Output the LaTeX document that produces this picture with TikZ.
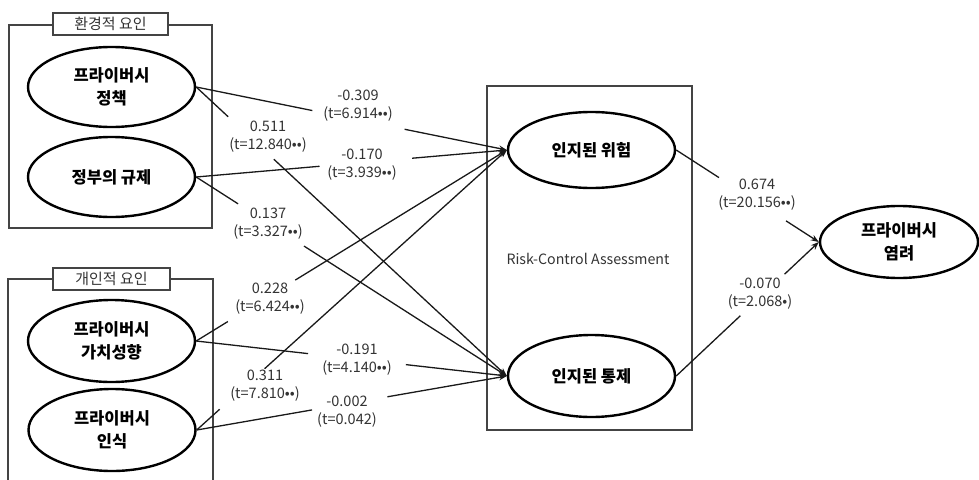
\documentclass[tikz,border=0pt]{standalone}
\usepackage{fontspec}
\setmainfont{Noto Sans CJK KR}
\usetikzlibrary{shapes.geometric,arrows.meta,calc}
\definecolor{txt}{HTML}{333333}
\definecolor{boxc}{HTML}{444444}
\newcommand\gapline[4]{%
  \draw[conn] (#1) -- ($(#1)!#3!(#2)$);
  \draw[conn,-{Stealth[length=8pt,width=6pt]}] ($(#1)!#4!(#2)$) -- (#2);}
\begin{document}
\begin{tikzpicture}[x=1pt,y=-1pt,
  ell/.style={ellipse,draw=black,line width=2.4pt,inner sep=0pt,align=center,
    font=\fontsize{16.5}{23}\selectfont\bfseries,text=black},
  conn/.style={line width=1.3pt,draw=black!90},
  frame/.style={line width=1.2pt,draw=boxc},
  tag/.style={draw=boxc,line width=1.2pt,fill=white,inner sep=0pt,
    font=\fontsize{15}{17}\selectfont,text=txt},
  coef/.style={align=center,inner sep=0pt,font=\fontsize{14.5}{18}\selectfont,text=txt}]
\useasboundingbox (0,0) rectangle (979,479);
% left frames
\draw[frame] (9,25) rectangle (212,228);
\node[tag,minimum width=115pt,minimum height=22pt] (envtag) at (110.5,24) {환경적 요인};
\draw[frame] (8,484) -- (8,279) -- (213,279) -- (213,484);
\node[tag,minimum width=117pt,minimum height=22pt] (indtag) at (111.5,279) {개인적 요인};
% middle frame
\node[frame,draw,rectangle,minimum width=205pt,minimum height=344pt,inner sep=0pt] (rc) at (589.5,258) {};
\node[font=\fontsize{14.2}{16}\selectfont,text=txt,inner sep=0pt] (rctext) at (588,259) {Risk-Control Assessment};
% ellipses
\node[ell,minimum width=167pt,minimum height=80pt] (policy) at (111.5,87) {프라이버시\\정책};
\node[ell,minimum width=167pt,minimum height=80pt] (gov) at (111.5,177) {정부의 규제};
\node[ell,minimum width=167pt,minimum height=82pt] (value) at (111.5,341) {프라이버시\\가치성향};
\node[ell,minimum width=167pt,minimum height=82pt] (aware) at (112,430) {프라이버시\\인식};
\node[ell,minimum width=167pt,minimum height=76pt] (risk) at (591.5,150) {인지된 위험};
\node[ell,minimum width=167pt,minimum height=82pt] (ctrl) at (591.5,376) {인지된 통제};
\node[ell,minimum width=158pt,minimum height=72pt] (concern) at (899,242) {프라이버시\\염려};
% connectors
\gapline{policy.east}{risk.west}{0.374}{0.671}
\gapline{policy.east}{ctrl.west}{0.103}{0.25}
\gapline{gov.east}{risk.west}{0.397}{0.695}
\gapline{gov.east}{ctrl.west}{0.135}{0.347}
\gapline{value.east}{risk.west}{0.102}{0.319}
\gapline{aware.east}{risk.west}{0.074}{0.219}
\gapline{value.east}{ctrl.west}{0.36}{0.675}
\gapline{aware.east}{ctrl.west}{0.372}{0.615}
\gapline{risk.east}{concern.west}{0.30}{0.77}
\gapline{ctrl.east}{concern.west}{0.45}{0.76}
% coefficient labels
\node[coef] (c1) at (358,106) {-0.309\\(t=6.914••)};
\node[coef] (c2) at (268,137) {0.511\\(t=12.840••)};
\node[coef] (c3) at (362,165) {-0.170\\(t=3.939••)};
\node[coef] (c4) at (268,224) {0.137\\(t=3.327••)};
\node[coef] (c5) at (270,299) {0.228\\(t=6.424••)};
\node[coef] (c6) at (265,386) {0.311\\(t=7.810••)};
\node[coef] (c7) at (357,360) {-0.191\\(t=4.140••)};
\node[coef] (c8) at (347,412) {-0.002\\(t=0.042)};
\node[coef] (c9) at (757,195) {0.674\\(t=20.156••)};
\node[coef] (c10) at (760,294) {-0.070\\(t=2.068•)};
\end{tikzpicture}
\end{document}
